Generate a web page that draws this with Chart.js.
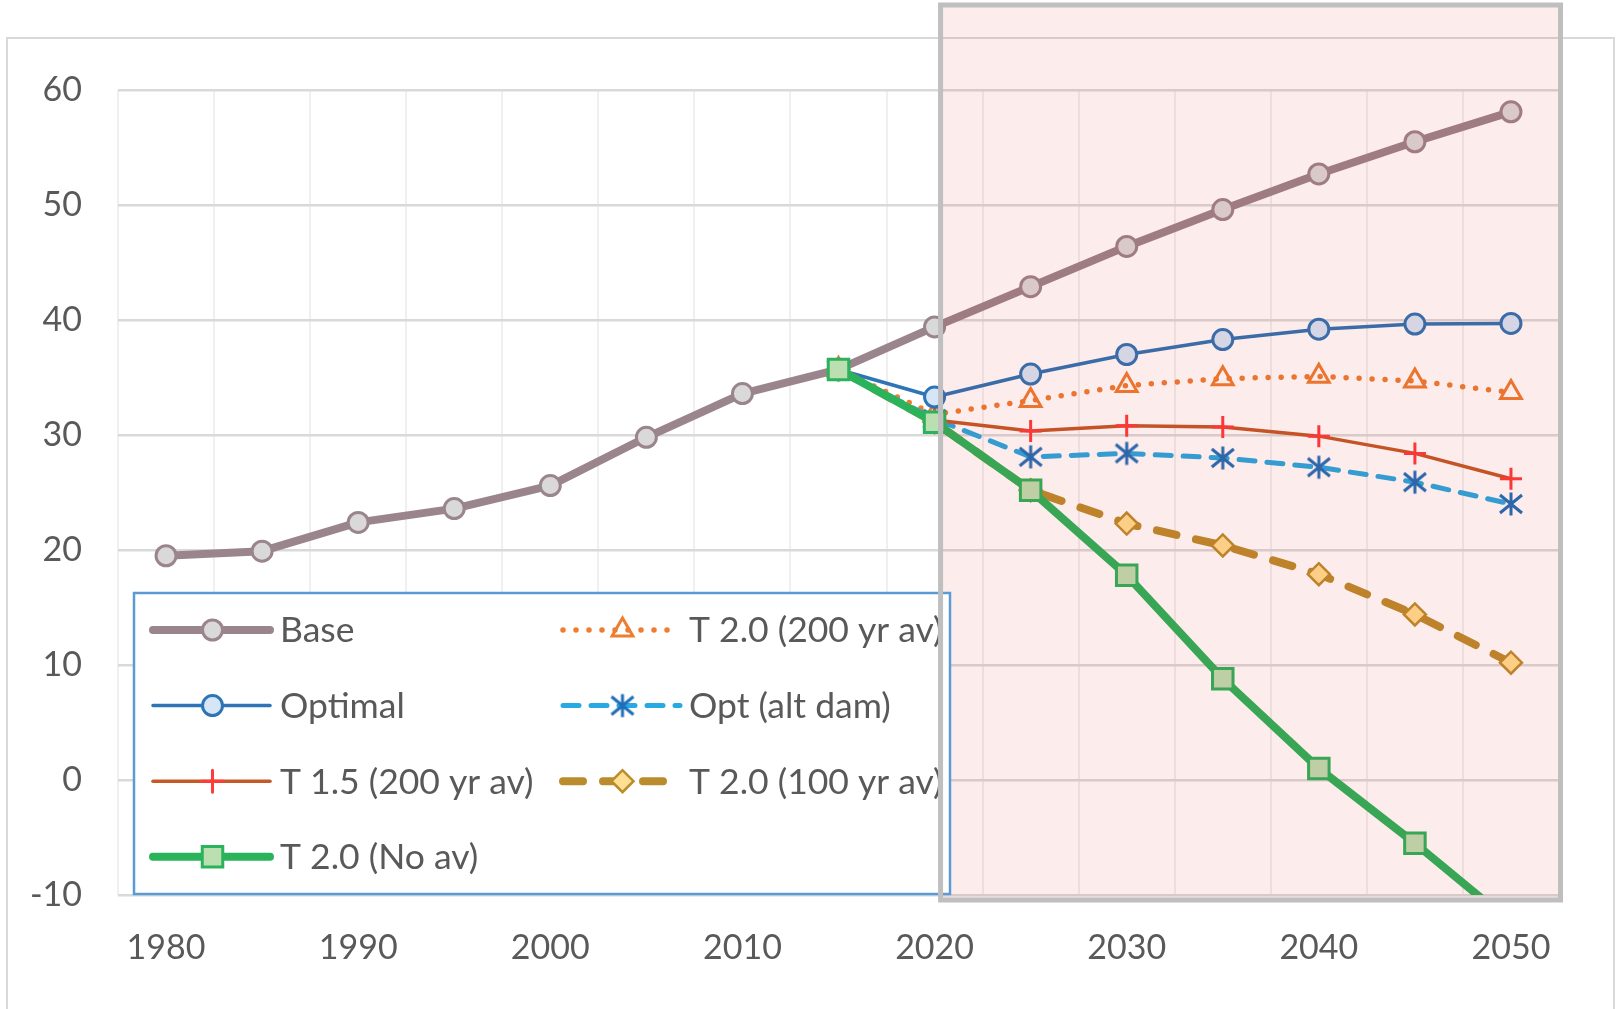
<!DOCTYPE html>
<html>
<head>
<meta charset="utf-8">
<script src="https://cdn.jsdelivr.net/npm/chart.js@4.4.1/dist/chart.umd.min.js"></script>
<style>
    html, body { margin: 0; padding: 0; background: #fff; }
    #wrap { width: 1617px; height: 1009px; }
</style>
</head>
<body>
<div id="wrap"><canvas id="chart" width="1617" height="1009"></canvas></div>
<script>
var years = ['1980', '1985', '1990', '1995', '2000', '2005', '2010', '2015',
             '2020', '2025', '2030', '2035', '2040', '2045', '2050'];
var xTickLabels = ['1980', '1990', '2000', '2010', '2020', '2030', '2040', '2050'];
var yTicks = [-10, 0, 10, 20, 30, 40, 50, 60];

var seriesNames = ['Base', 'T 2.0 (200 yr av)', 'Optimal', 'Opt (alt dam)',
                   'T 1.5 (200 yr av)', 'T 2.0 (100 yr av)', 'T 2.0 (No av)'];

var baseValues    = [19.5, 19.9, 22.4, 23.6, 25.6, 29.8, 33.6, 35.7, 39.4, 42.9, 46.4, 49.6, 52.7, 55.5, 58.1];
var t20y200Values = [null, null, null, null, null, null, null, 35.7, 31.8, 33.0, 34.3, 34.9, 35.1, 34.7, 33.7];
var optimalValues = [null, null, null, null, null, null, null, 35.7, 33.3, 35.3, 37.0, 38.3, 39.2, 39.65, 39.7];
var optAltValues  = [null, null, null, null, null, null, null, 35.7, 31.4, 28.1, 28.4, 28.0, 27.2, 25.9, 24.0];
var t15y200Values = [null, null, null, null, null, null, null, 35.7, 31.3, 30.35, 30.8, 30.7, 29.9, 28.4, 26.2];
var t20y100Values = [null, null, null, null, null, null, null, 35.7, 31.1, 25.2, 22.3, 20.4, 17.9, 14.4, 10.2];
var t20noAvValues = [null, null, null, null, null, null, null, 35.7, 31.1, 25.2, 17.8, 8.8, 1.0, -5.5, -12.4];

var highlightFrom = '2020';

// asterisk marker, Excel style (vertical bar + X)
var star = document.createElement('canvas');
star.width = 28;
star.height = 28;
(function () {
    var c = star.getContext('2d');
    c.strokeStyle = '#1f6fb8';
    c.lineWidth = 3;
    c.beginPath();
    c.moveTo(14, 2.5); c.lineTo(14, 25.5);
    c.moveTo(3, 5); c.lineTo(25, 23);
    c.moveTo(3, 23); c.lineTo(25, 5);
    c.stroke();
})();

var textColor = '#595959';
var fontFamily = 'Lato, "Open Sans", sans-serif';
var clipBox = { left: 40, top: 40, right: 40, bottom: 0 };

var datasets = [
    {
        label: seriesNames[0], data: baseValues,
        borderColor: '#9b858d', borderWidth: 8,
        pointStyle: 'circle', pointRadius: 10, pointBorderWidth: 3,
        pointBackgroundColor: '#d9d9d9', pointBorderColor: '#9b858d'
    },
    {
        label: seriesNames[1], data: t20y200Values,
        borderColor: '#ed7d31', borderWidth: 5.5, borderDash: [0, 13], borderCapStyle: 'round',
        pointStyle: 'triangle', pointRadius: 12, pointBorderWidth: 3,
        pointBackgroundColor: 'rgba(0,0,0,0)', pointBorderColor: '#ed7d31'
    },
    {
        label: seriesNames[2], data: optimalValues,
        borderColor: '#2e75b6', borderWidth: 3.5,
        pointStyle: 'circle', pointRadius: 10, pointBorderWidth: 3,
        pointBackgroundColor: '#d6e6f6', pointBorderColor: '#2e75b6'
    },
    {
        label: seriesNames[3], data: optAltValues,
        borderColor: '#27a9e1', borderWidth: 5, borderDash: [16, 12], borderCapStyle: 'round',
        pointStyle: star, pointRadius: 12, pointBorderWidth: 0,
        pointBackgroundColor: '#1f6fb8', pointBorderColor: '#1f6fb8'
    },
    {
        label: seriesNames[4], data: t15y200Values,
        borderColor: '#c55a28', borderWidth: 3.5,
        pointStyle: 'cross', pointRadius: 11, pointBorderWidth: 3,
        pointBackgroundColor: '#ff3b3b', pointBorderColor: '#ff3b3b'
    },
    {
        label: seriesNames[5], data: t20y100Values,
        borderColor: '#bb8c2d', borderWidth: 8, borderDash: [20, 20], borderCapStyle: 'round',
        pointStyle: 'rectRot', pointRadius: 11, pointBorderWidth: 2.5,
        pointBackgroundColor: '#ffdf91', pointBorderColor: '#bb8c2d'
    },
    {
        label: seriesNames[6], data: t20noAvValues,
        borderColor: '#2bb35b', borderWidth: 8,
        pointStyle: 'rect', pointRadius: 14.5, pointBorderWidth: 3,
        pointBackgroundColor: '#bcdfb2', pointBorderColor: '#2bb35b'
    }
];

datasets.forEach(function (ds, i) {
    ds.order = datasets.length - 1 - i;   // later series on top, like Excel
    ds.tension = 0;
    ds.fill = false;
    ds.spanGaps = false;
    ds.clip = clipBox;
    ds.borderJoinStyle = 'round';
    ds.pointHoverRadius = ds.pointRadius;
});

// outer chart border
var frame = {
    id: 'frame',
    beforeDraw: function (chart) {
        var ctx = chart.ctx;
        ctx.save();
        ctx.fillStyle = '#fff';
        ctx.fillRect(0, 0, chart.width, chart.height);
        ctx.strokeStyle = '#d9d9d9';
        ctx.lineWidth = 2;
        ctx.strokeRect(7, 38, chart.width - 10, chart.height);
        ctx.restore();
    }
};

// shaded projection period, legend box, then the box outline
var overlay = {
    id: 'overlay',
    afterDatasetsDraw: function (chart) {
        var ctx = chart.ctx;
        var area = chart.chartArea;
        var xs = chart.scales.x;
        var x0 = xs.getPixelForValue(years.indexOf(highlightFrom)) + 6;
        var x1 = area.right + 1.5;
        var y0 = 5;
        var y1 = area.bottom + 5;

        ctx.save();
        ctx.fillStyle = 'rgba(217, 18, 18, 0.08)';
        ctx.fillRect(x0, y0, x1 - x0, y1 - y0);

        // legend
        var lx = 134, ly = 593, lw = 816, lh = 301;
        ctx.fillStyle = '#fff';
        ctx.fillRect(lx, ly, lw, lh);
        ctx.strokeStyle = '#5b9bd5';
        ctx.lineWidth = 2.5;
        ctx.strokeRect(lx, ly, lw, lh);

        var colLine = [153, 563];
        var colText = [280, 689];
        var lineLen = 117;
        chart.data.datasets.forEach(function (ds, i) {
            var col = i % 2, row = Math.floor(i / 2);
            var y = 630 + row * 75.6;
            var xa = colLine[col];
            ctx.save();
            ctx.strokeStyle = ds.borderColor;
            ctx.lineWidth = ds.borderWidth;
            ctx.lineCap = ds.borderCapStyle || 'round';
            ctx.setLineDash(ds.borderDash || []);
            ctx.beginPath();
            ctx.moveTo(xa, y);
            ctx.lineTo(xa + lineLen, y);
            ctx.stroke();
            ctx.setLineDash([]);
            ctx.fillStyle = ds.pointBackgroundColor;
            ctx.strokeStyle = ds.pointBorderColor;
            ctx.lineWidth = ds.pointBorderWidth;
            Chart.helpers.drawPoint(ctx, {
                pointStyle: ds.pointStyle,
                radius: ds.pointRadius,
                borderWidth: ds.pointBorderWidth,
                rotation: 0
            }, xa + lineLen / 2 + 1, y);
            ctx.restore();

            ctx.fillStyle = textColor;
            ctx.font = '35.5px ' + fontFamily;
            ctx.textBaseline = 'middle';
            ctx.textAlign = 'left';
            ctx.fillText(ds.label, colText[col], y + 1);
        });

        ctx.strokeStyle = '#bfbfbf';
        ctx.lineWidth = 5;
        ctx.strokeRect(x0, y0, x1 - x0, y1 - y0);
        ctx.restore();
    }
};

var chart = new Chart(document.getElementById('chart'), {
    type: 'line',
    data: { labels: years, datasets: datasets },
    plugins: [frame, overlay],
    options: {
        responsive: false,
        animation: false,
        devicePixelRatio: 1,
        layout: { padding: { left: 0, top: 90, right: 58, bottom: 34 } },
        plugins: {
            legend: { display: false },
            tooltip: { enabled: false }
        },
        scales: {
            x: {
                type: 'category',
                offset: true,
                grid: { offset: true, color: '#efefef', lineWidth: 2, drawTicks: false },
                border: { display: false },
                ticks: {
                    autoSkip: false,
                    maxRotation: 0,
                    padding: 33,
                    color: textColor,
                    font: { family: fontFamily, size: 34 },
                    callback: function (val) {
                        var lab = this.getLabelForValue(val);
                        return xTickLabels.indexOf(lab) >= 0 ? lab : '';
                    }
                },
                afterFit: function (s) { s.height = 80; }
            },
            y: {
                min: yTicks[0],
                max: yTicks[yTicks.length - 1],
                grid: { color: '#d9d9d9', lineWidth: 2.5, drawTicks: false },
                border: { display: false },
                ticks: {
                    stepSize: 10,
                    padding: 36,
                    color: textColor,
                    font: { family: fontFamily, size: 34 }
                },
                afterBuildTicks: function (s) {
                    s.ticks = yTicks.map(function (v) { return { value: v }; });
                },
                afterFit: function (s) { s.width = 118; }
            }
        }
    }
});
</script>
</body>
</html>
